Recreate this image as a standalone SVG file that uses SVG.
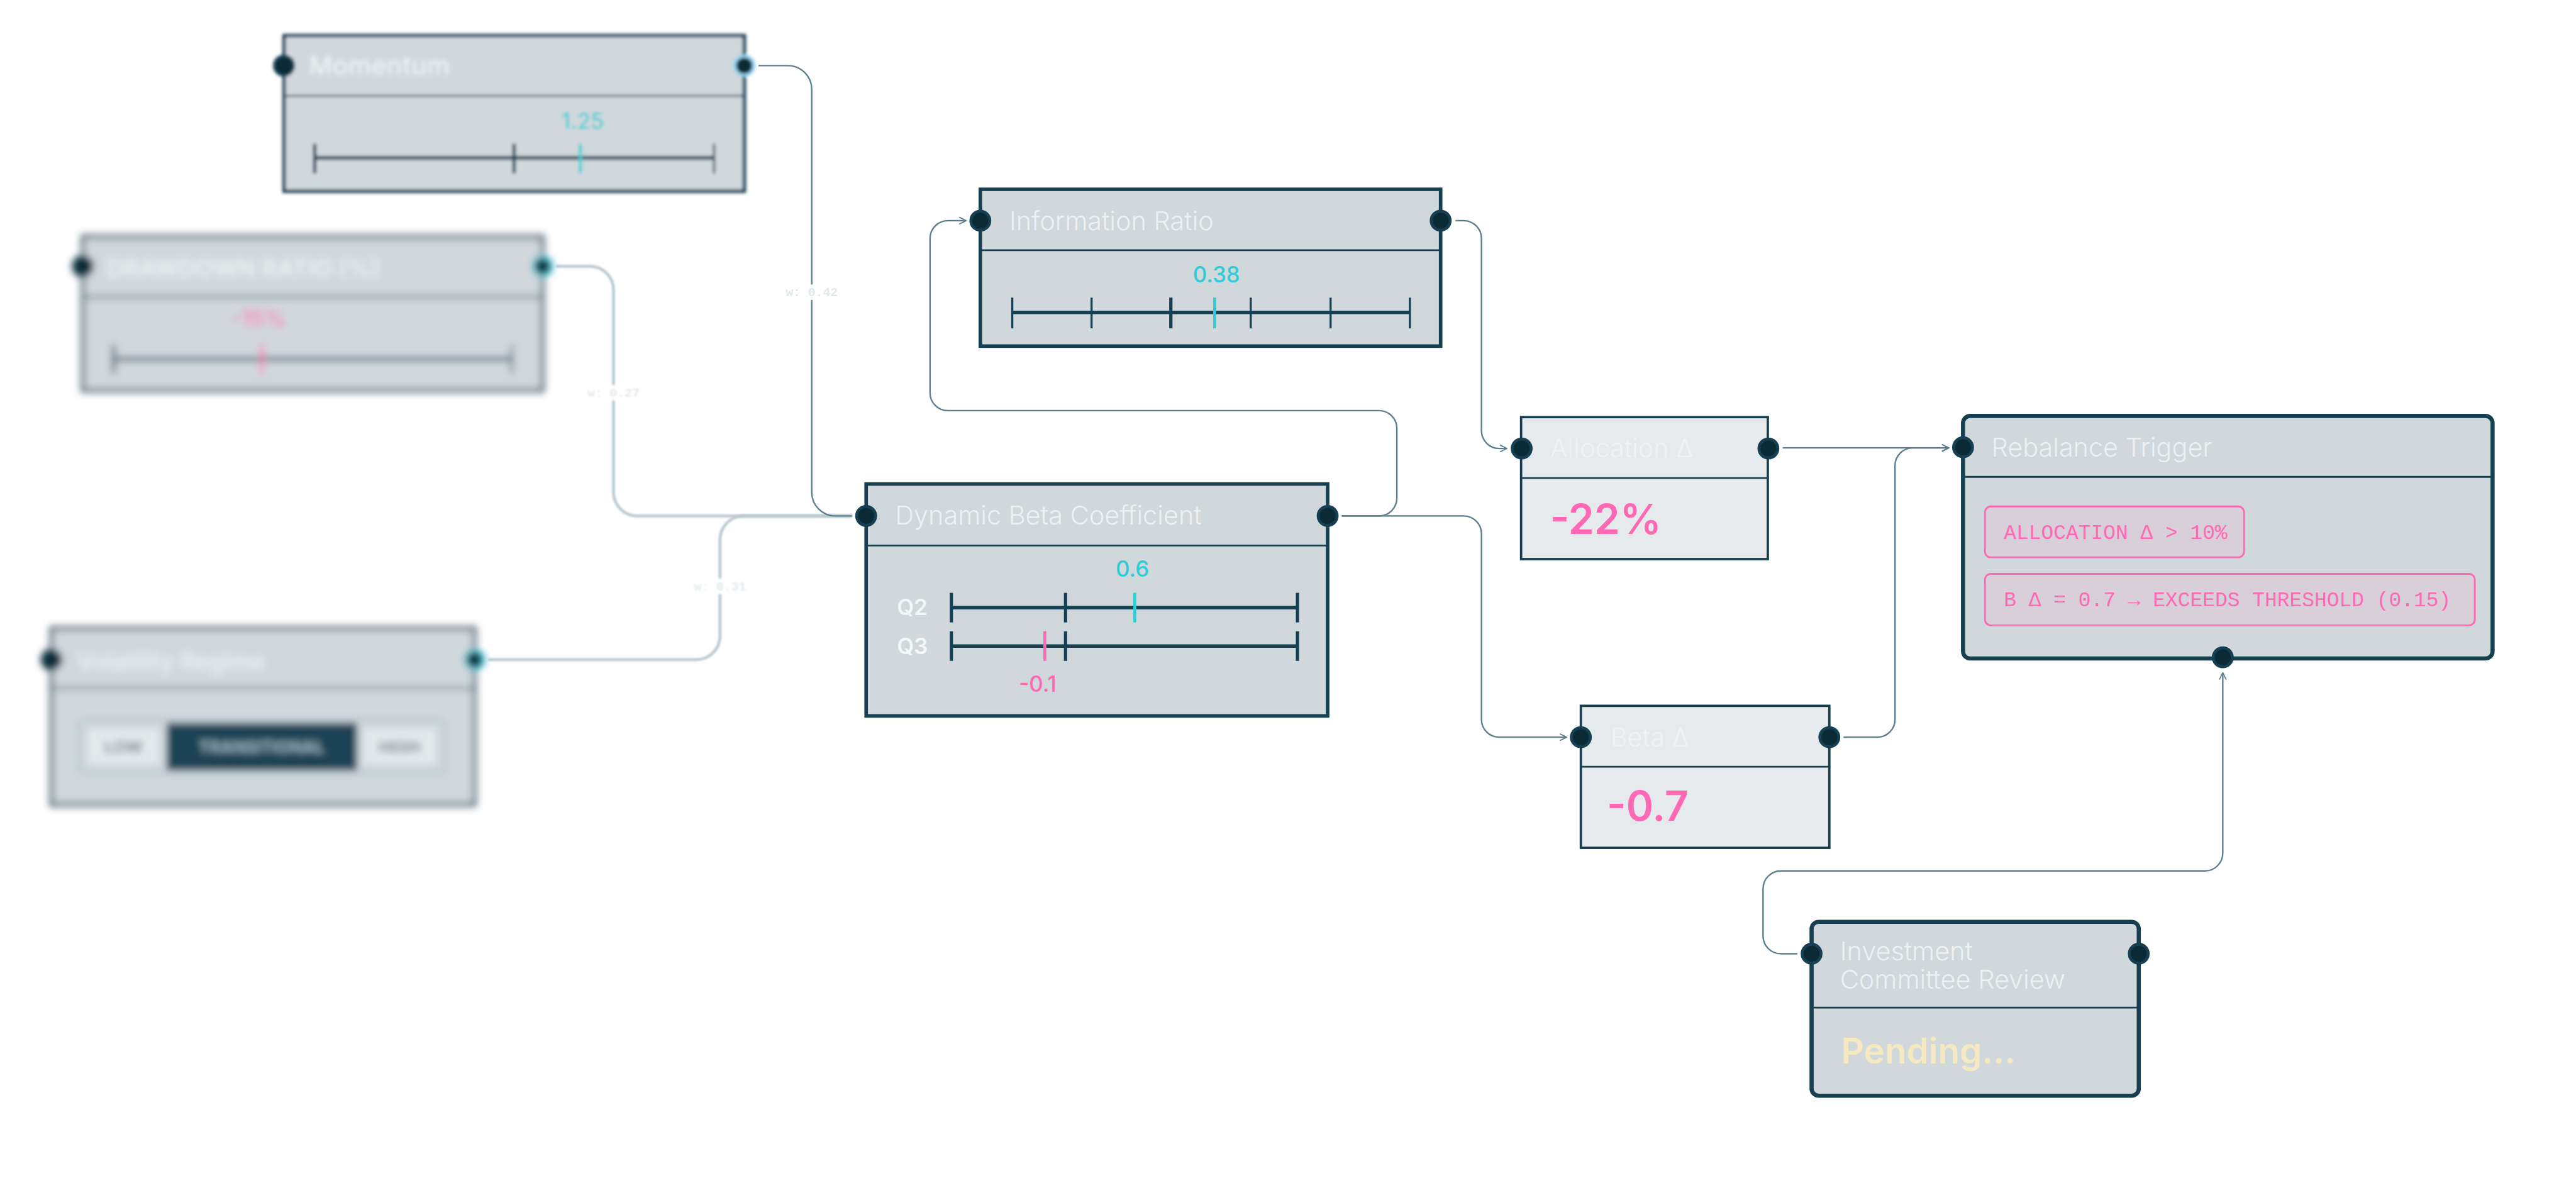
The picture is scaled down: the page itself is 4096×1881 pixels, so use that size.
<svg xmlns="http://www.w3.org/2000/svg" width="4096" height="1881" viewBox="0 0 4096 1881">
<defs>
<style>
.nf{fill:#d0d8dc;stroke:#173f52;stroke-width:6}
.nl{fill:#e6eaed;stroke:#173f52;stroke-width:4}
.dv{stroke:#173f52;stroke-width:3}
.title{font-family:Inter,'Noto Sans',sans-serif;font-weight:300;font-size:44px;fill:#eef1f3}
.port{fill:#0a2a36;stroke:#173f52;stroke-width:5}
.bar{stroke:#173f52;stroke-width:6}
.tick{stroke:#173f52;stroke-width:3.5}
.tk2{stroke:#173f52;stroke-width:5.5}
.cyl{stroke:#2ecdd6;stroke-width:5}
.pkl{stroke:#ff69b4;stroke-width:5}
.cy{fill:#2ecdd6}
.pk{fill:#ff69b4}
.val{font-family:Inter,'Noto Sans',sans-serif;font-weight:500;font-size:37px}
.big{font-family:Inter,'Noto Sans',sans-serif;font-weight:600;font-size:70px}
.q{font-family:Inter,'Noto Sans',sans-serif;font-weight:600;font-size:37px;fill:#f4f6f7}
.conn{fill:none;stroke:#5b7f8f;stroke-width:2.5}
.connb{fill:none;stroke:#bccbd2;stroke-width:5}
.wl{font-family:'Liberation Mono',monospace;font-weight:bold;font-size:21px;fill:#e2e9ec}
.mono{font-family:'Liberation Mono',monospace;font-size:35px;fill:#ff69b4}
.pill{fill:#d8cfd9;stroke:#ff69b4;stroke-width:3}
.seg{font-family:Inter,'Noto Sans',sans-serif;font-weight:700;font-size:28px}
</style>
<filter id="b3" x="-10%" y="-15%" width="120%" height="130%"><feGaussianBlur stdDeviation="3"/></filter>
<filter id="b6" x="-10%" y="-15%" width="120%" height="130%"><feGaussianBlur stdDeviation="6"/></filter>
<filter id="b2" x="-20%" y="-20%" width="140%" height="140%"><feGaussianBlur stdDeviation="1.5"/></filter>
<marker id="arr" viewBox="0 0 12 12" refX="11" refY="6" markerWidth="14" markerHeight="14" markerUnits="userSpaceOnUse" orient="auto"><path d="M1,1 L11,6 L1,11" fill="none" stroke="#5b7f8f" stroke-width="1.6"/></marker>
</defs>
<rect width="4096" height="1881" fill="#ffffff"/>
<g transform="scale(0.94074)">
<g id="connectors">
  <path id="c2" class="connb" filter="url(#b2)" d="M940,450 H997 A40,40 0 0 1 1037,490 V832 A40,40 0 0 0 1077,872 H1440"/>
  <path id="c3" class="connb" filter="url(#b2)" d="M825,1115 H1177 A40,40 0 0 0 1217,1075 V912 A40,40 0 0 1 1257,872 H1440"/>
  <path id="c1" class="conn" d="M1282,111 H1332 A40,40 0 0 1 1372,151 V832 A40,40 0 0 0 1412,872 H1440"/>
  <path id="c4" class="conn" marker-end="url(#arr)" d="M2268,872 H2331 A30,30 0 0 0 2361,842 V724 A30,30 0 0 0 2331,694 H1602 A30,30 0 0 1 1572,664 V403 A30,30 0 0 1 1602,373 H1633"/>
  <path id="c5" class="conn" marker-end="url(#arr)" d="M2268,872 H2474 A30,30 0 0 1 2504,902 V1216 A30,30 0 0 0 2534,1246 H2648"/>
  <path id="c6" class="conn" marker-end="url(#arr)" d="M2460,373 H2474 A30,30 0 0 1 2504,403 V728 A30,30 0 0 0 2534,758 H2547"/>
  <path id="c7" class="conn" marker-end="url(#arr)" d="M3013,757 H3294"/>
  <path id="c8" class="conn" marker-end="url(#arr)" d="M3116,1246 H3173 A30,30 0 0 0 3203,1216 V787 A30,30 0 0 1 3233,757 H3294"/>
  <path id="c9" class="conn" marker-end="url(#arr)" d="M3038,1612 H3010 A30,30 0 0 1 2980,1582 V1502 A30,30 0 0 1 3010,1472 H3727 A30,30 0 0 0 3757,1442 V1137"/>
  <g id="lbl1"><rect x="1326" y="481" width="92" height="26" fill="#ffffff"/><text class="wl" x="1372" y="501" text-anchor="middle">w: 0.42</text></g>
  <g id="lbl2" filter="url(#b2)"><rect x="991" y="651" width="92" height="26" fill="#ffffff"/><text class="wl" x="1037" y="671" text-anchor="middle">w: 0.27</text></g>
  <g id="lbl3" filter="url(#b2)"><rect x="1171" y="978" width="92" height="26" fill="#ffffff"/><text class="wl" x="1217" y="998" text-anchor="middle">w: 0.31</text></g>
</g>

<g id="node-momentum" filter="url(#b3)">
  <rect class="nf" x="480" y="60" width="778" height="263"/>
  <line class="dv" x1="480" y1="162" x2="1258" y2="162"/>
  <text class="title" x="522" y="127" style="font-weight:500" filter="url(#b3)">Momentum</text>
  <text class="val cy" x="985" y="218" text-anchor="middle">1.25</text>
  <line class="bar" x1="532" y1="267" x2="1207" y2="267"/>
  <line class="tk2" x1="532" y1="243" x2="532" y2="293"/>
  <line class="tk2" x1="869" y1="243" x2="869" y2="293"/>
  <line class="tick" x1="1207" y1="243" x2="1207" y2="293"/>
  <line class="cyl" x1="981" y1="243" x2="981" y2="293"/>
  <circle class="port" cx="480" cy="111" r="16"/>
  <circle class="port" cx="1258" cy="111" r="16" style="stroke:#8fd3ec"/>
</g>

<g id="node-drawdown" filter="url(#b6)">
  <rect class="nf" x="140" y="400" width="777" height="260"/>
  <line class="dv" x1="140" y1="502" x2="917" y2="502"/>
  <text class="title" x="180" y="468" style="font-weight:600;font-size:40px">DRAWDOWN RATIO (%)</text>
  <text class="val pk" x="437" y="552" text-anchor="middle">-15%</text>
  <line class="bar" x1="192" y1="607" x2="865" y2="607"/>
  <line class="tk2" x1="192" y1="583" x2="192" y2="631"/>
  <line class="tick" x1="865" y1="583" x2="865" y2="631"/>
  <line class="pkl" x1="443" y1="583" x2="443" y2="631"/>
  <circle class="port" cx="140" cy="450" r="16"/>
  <circle class="port" cx="917" cy="450" r="16" style="stroke:#4fcfe0"/>
</g>

<g id="node-volatility" filter="url(#b6)">
  <rect class="nf" x="87" y="1062" width="715" height="298"/>
  <line class="dv" x1="87" y1="1163" x2="802" y2="1163"/>
  <text class="title" x="130" y="1132" style="font-weight:500;font-size:40px">Volatility Regime</text>
  <rect x="135" y="1218" width="616" height="87" rx="6" fill="#dfe5e8" stroke="#8ea4ae" stroke-width="3"/>
  <rect x="145" y="1228" width="128" height="67" fill="#e3e8eb" stroke="#a5b7bf" stroke-width="3"/>
  <rect x="281" y="1222" width="323" height="80" fill="#1b4255"/>
  <rect x="610" y="1228" width="131" height="67" fill="#e3e8eb" stroke="#a5b7bf" stroke-width="3"/>
  <text class="seg" x="209" y="1272" text-anchor="middle" fill="#6f8792">LOW</text>
  <text class="seg" x="442" y="1272" text-anchor="middle" fill="#9db6c2">TRANSITIONAL</text>
  <text class="seg" x="675" y="1272" text-anchor="middle" fill="#6f8792">HIGH</text>
  <circle class="port" cx="87" cy="1115" r="16"/>
  <circle class="port" cx="802" cy="1115" r="16" style="stroke:#4fcfe0"/>
</g>

<g id="node-info-ratio">
  <rect class="nf" x="1657" y="320" width="778" height="265"/>
  <line class="dv" x1="1657" y1="423" x2="2435" y2="423"/>
  <text class="title" x="1706" y="389">Information Ratio</text>
  <text class="val cy" x="2056" y="477" text-anchor="middle">0.38</text>
  <line class="bar" x1="1711" y1="528" x2="2383" y2="528"/>
  <line class="tick" x1="1711" y1="503" x2="1711" y2="555"/>
  <line class="tick" x1="1845" y1="503" x2="1845" y2="555"/>
  <line class="tk2" x1="1979" y1="503" x2="1979" y2="555"/>
  <line class="tick" x1="2114" y1="503" x2="2114" y2="555"/>
  <line class="tick" x1="2249" y1="503" x2="2249" y2="555"/>
  <line class="tick" x1="2383" y1="503" x2="2383" y2="555"/>
  <line class="cyl" x1="2053" y1="503" x2="2053" y2="555"/>
  <circle class="port" cx="1657" cy="373" r="16"/>
  <circle class="port" cx="2435" cy="373" r="16"/>
</g>

<g id="node-dynamic-beta">
  <rect class="nf" x="1464" y="818" width="780" height="392"/>
  <line class="dv" x1="1464" y1="922" x2="2244" y2="922"/>
  <text class="title" x="1513" y="887">Dynamic Beta Coefficient</text>
  <text class="val cy" x="1914" y="975" text-anchor="middle">0.6</text>
  <text class="q" x="1516" y="1040">Q2</text>
  <text class="q" x="1516" y="1105">Q3</text>
  <line class="bar" x1="1608" y1="1027" x2="2193" y2="1027"/>
  <line class="tk2" x1="1608" y1="1002" x2="1608" y2="1052"/>
  <line class="tk2" x1="1801" y1="1002" x2="1801" y2="1052"/>
  <line class="tk2" x1="2193" y1="1002" x2="2193" y2="1052"/>
  <line class="cyl" x1="1918" y1="1002" x2="1918" y2="1052"/>
  <line class="bar" x1="1608" y1="1092" x2="2193" y2="1092"/>
  <line class="tk2" x1="1608" y1="1067" x2="1608" y2="1117"/>
  <line class="tk2" x1="1801" y1="1067" x2="1801" y2="1117"/>
  <line class="tk2" x1="2193" y1="1067" x2="2193" y2="1117"/>
  <line class="pkl" x1="1766" y1="1067" x2="1766" y2="1117"/>
  <text class="val pk" x="1754" y="1169" text-anchor="middle">-0.1</text>
  <circle class="port" cx="1464" cy="872" r="16"/>
  <circle class="port" cx="2244" cy="872" r="16"/>
</g>

<g id="node-allocation">
  <rect class="nl" x="2571" y="705" width="417" height="240"/>
  <line class="dv" x1="2571" y1="808" x2="2988" y2="808"/>
  <text class="title" x="2620" y="773" style="fill:#f0f2f4">Allocation Δ</text>
  <text class="big pk" x="2620" y="902">-22%</text>
  <circle class="port" cx="2572" cy="758" r="16"/>
  <circle class="port" cx="2989" cy="758" r="16"/>
</g>

<g id="node-beta-delta">
  <rect class="nl" x="2672" y="1193" width="420" height="240"/>
  <line class="dv" x1="2672" y1="1296" x2="3092" y2="1296"/>
  <text class="title" x="2722" y="1262" style="fill:#f0f2f4">Beta Δ</text>
  <text class="big pk" x="2716" y="1387">-0.7</text>
  <circle class="port" cx="2672" cy="1246" r="16"/>
  <circle class="port" cx="3092" cy="1246" r="16"/>
</g>

<g id="node-rebalance">
  <rect class="nf" x="3318" y="703" width="895" height="410" rx="12" style="stroke-width:7"/>
  <line class="dv" x1="3318" y1="806" x2="4213" y2="806"/>
  <text class="title" x="3366" y="772">Rebalance Trigger</text>
  <rect class="pill" x="3355" y="856" width="438" height="86" rx="10"/>
  <text class="mono" x="3387" y="911">ALLOCATION Δ &gt; 10%</text>
  <rect class="pill" x="3355" y="970" width="828" height="87" rx="10"/>
  <text class="mono" x="3387" y="1025">B Δ = 0.7 → EXCEEDS THRESHOLD (0.15)</text>
  <circle class="port" cx="3318" cy="756" r="16"/>
  <circle class="port" cx="3757" cy="1111" r="16"/>
</g>

<g id="node-committee">
  <rect class="nf" x="3062" y="1558" width="553" height="294" rx="12" style="stroke-width:7"/>
  <line class="dv" x1="3062" y1="1703" x2="3615" y2="1703"/>
  <text class="title" x="3110" y="1623">Investment</text>
  <text class="title" x="3110" y="1671">Committee Review</text>
  <text class="big" x="3112" y="1798" style="font-size:60px;fill:#f5e9c2">Pending...</text>
  <circle class="port" cx="3062" cy="1612" r="16"/>
  <circle class="port" cx="3615" cy="1612" r="16"/>
</g>
</g>
</svg>
